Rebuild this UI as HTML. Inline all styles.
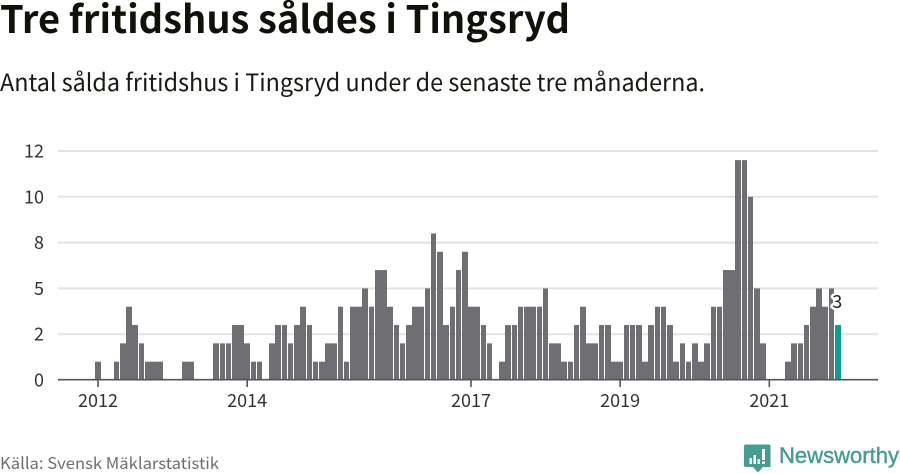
<!DOCTYPE html>
<html lang="sv">
<head>
<meta charset="utf-8">
<title>Tre fritidshus såldes i Tingsryd</title>
<style>
html,body{margin:0;padding:0;background:#fff;width:900px;height:474px;overflow:hidden}
svg{display:block}
text{font-family:"Noto Sans CJK JP","DejaVu Sans","Liberation Sans",sans-serif}
</style>
</head>
<body>
<svg id="chart" width="900" height="474" viewBox="0 0 900 474">
  <text x="0" y="33" font-size="38" font-weight="700" fill="#11110a" textLength="570" lengthAdjust="spacingAndGlyphs">Tre fritidshus såldes i Tingsryd</text>
  <text x="0" y="91" font-size="24" fill="#1a1a14" textLength="705" lengthAdjust="spacingAndGlyphs">Antal sålda fritidshus i Tingsryd under de senaste tre månaderna.</text>
  <g id="grid"></g>
  <g id="bars"></g>
  <g id="axes"></g>
  <text x="0" y="469" font-size="16" fill="#6f6e73" textLength="219" lengthAdjust="spacingAndGlyphs">Källa: Svensk Mäklarstatistik</text>
  <g>
    <path d="M746.500 444.500h22a2 2 0 0 1 2 2v20.500h-7.500l-5 5.500-5-5.500h-8a2 2 0 0 1-1-1.500v-19.500a2 2 0 0 1 2.500-1.500z" fill="#459c92"/>
    <rect x="749.500" y="458" width="2.500" height="6" fill="#fff"/>
    <rect x="753.500" y="455" width="2.500" height="9" fill="#fff"/>
    <rect x="757.500" y="459" width="2.500" height="5" fill="#fff"/>
    <rect x="762" y="449" width="3" height="11" fill="#fff"/>
    <rect x="762" y="461.500" width="3" height="2.500" fill="#fff"/>
    <text x="779" y="463" font-size="22" font-weight="500" fill="#459c92" textLength="120" lengthAdjust="spacingAndGlyphs" style="font-family:'Liberation Sans',sans-serif" stroke="#459c92" stroke-width="0.4">Newsworthy</text>
  </g>
</svg>
<script>
const startYear = 2012;
const values = [
  1,0,0,1,2,4,3,2,1,1,1,0,
  0,0,1,1,0,0,0,2,2,2,3,3,
  2,1,1,0,2,3,3,2,3,4,3,1,
  1,2,2,4,1,4,4,5,4,6,6,4,
  3,2,3,4,4,5,8,7,3,4,6,7,
  4,4,3,2,0,1,3,3,4,4,4,4,
  5,2,2,1,1,3,4,2,2,3,3,1,
  1,3,3,3,1,3,4,4,3,1,2,1,
  2,1,2,4,4,6,6,12,12,10,5,2,
  0,0,0,1,2,2,3,4,5,4,5,3
];
const yTickValues = [0,2.5,5,7.5,10,12.5];
const yTickLabels = ["0","2","5","8","10","12"];
const xTickMonths = ["2012-01","2014-01","2017-01","2019-01","2021-01"];
const xTickLabels = ["2012","2014","2017","2019","2021"];
const highlightLabel = "3";

const NS = "http://www.w3.org/2000/svg";
const categories = values.map(function (v, i) {
  const y = startYear + Math.floor(i / 12);
  const m = (i % 12) + 1;
  return y + "-" + (m < 10 ? "0" + m : m);
});
const plotLeft = 58, plotRight = 878, baseY = 380;
const firstX = 98, stepX = 6.216, pxPerUnit = 18.32, barW = 5.6;
function xScale(i) { return firstX + i * stepX; }
function yScale(v) { return baseY - v * pxPerUnit; }
function mk(tag, attrs, parent) {
  const el = document.createElementNS(NS, tag);
  for (const k in attrs) el.setAttribute(k, attrs[k]);
  parent.appendChild(el);
  return el;
}
const grid = document.getElementById("grid");
const bars = document.getElementById("bars");
const axes = document.getElementById("axes");

yTickValues.forEach(function (v, i) {
  if (v > 0) {
    const line = mk("line", {x1: plotLeft, x2: plotRight, y1: yScale(v), y2: yScale(v), stroke: "#e2e2e2", "stroke-width": 2}, grid);
    
    
  }
  const t = mk("text", {x: 44, y: yScale(v) + 6.5, "text-anchor": "end", "font-size": 18, fill: "#333", textLength: yTickLabels[i].length * 10, lengthAdjust: "spacingAndGlyphs"}, axes);
  
  
  t.textContent = yTickLabels[i];
});

values.forEach(function (v, i) {
  if (v <= 0) return;
  const last = i === values.length - 1;
  const left = Math.round(xScale(i) - barW / 2);
  const right = Math.round(xScale(i) + barW / 2);
  const r = mk("rect", {x: left, y: yScale(v), width: right - left, height: baseY - yScale(v), fill: last ? "#05a197" : "#6f6e73"}, bars);
  
  
  r.setAttribute('data-month', categories[i]);
});

const base = mk("line", {x1: plotLeft, x2: plotRight, y1: baseY - 0.3, y2: baseY - 0.3, stroke: "#55545a", "stroke-width": 1.6}, axes);



xTickMonths.forEach(function (m, i) {
  const x = xScale(categories.indexOf(m));
  const tick = mk("line", {x1: x, x2: x, y1: baseY, y2: baseY + 7, stroke: "#55545a", "stroke-width": 1.6}, axes);
  
  
  const t = mk("text", {x: x, y: baseY + 27, "text-anchor": "middle", "font-size": 18, fill: "#333", textLength: xTickLabels[i].length * 10, lengthAdjust: "spacingAndGlyphs"}, axes);
  
  
  t.textContent = xTickLabels[i];
});

const lastIdx = values.length - 1;
const lab = mk("text", {x: xScale(lastIdx) - 0.5, y: yScale(values[lastIdx]) - 17, "text-anchor": "middle", "font-size": 18, fill: "#222", stroke: "#fff", "stroke-width": 5, "paint-order": "stroke", "stroke-linejoin": "round"}, axes);


lab.textContent = highlightLabel;
</script>
</body>
</html>
